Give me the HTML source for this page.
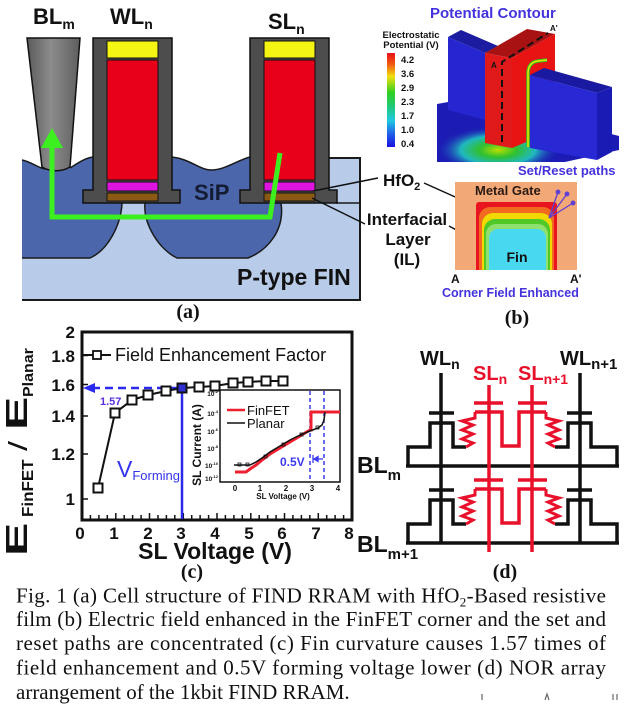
<!DOCTYPE html>
<html><head><meta charset="utf-8">
<style>
html,body{margin:0;padding:0;background:#fff;}
svg{display:block;}
text{font-family:"Liberation Sans",Arial,sans-serif;}
.b{font-weight:bold;}
.s{font-family:"Liberation Serif","Times New Roman",serif;}
</style></head><body>
<svg width="624" height="705" viewBox="0 0 624 705" xmlns="http://www.w3.org/2000/svg">
<defs>
<linearGradient id="blg" x1="0" x2="1" y1="0" y2="0">
<stop offset="0" stop-color="#5a5a5a"/><stop offset="0.45" stop-color="#8c8c8c"/><stop offset="1" stop-color="#5e5e5e"/>
</linearGradient>
<linearGradient id="cbar" x1="0" x2="0" y1="0" y2="1">
<stop offset="0" stop-color="#e8101c"/>
<stop offset="0.12" stop-color="#f05a10"/>
<stop offset="0.25" stop-color="#f0e010"/>
<stop offset="0.42" stop-color="#30d020"/>
<stop offset="0.58" stop-color="#20c880"/>
<stop offset="0.72" stop-color="#20c8e0"/>
<stop offset="0.86" stop-color="#2060e8"/>
<stop offset="1" stop-color="#1a10e0"/>
</linearGradient>
<radialGradient id="glow" cx="0.5" cy="0.5" r="0.5">
<stop offset="0" stop-color="#b8e000"/>
<stop offset="0.3" stop-color="#30c030"/>
<stop offset="0.6" stop-color="#20b8c0"/>
<stop offset="1" stop-color="#1c1cb4" stop-opacity="0"/>
</radialGradient>
<clipPath id="baseclip"><polygon points="437,104 470,98 619,136 619,150 565,162 437,162"/></clipPath>
<clipPath id="xsclip"><rect x="455" y="182" width="122" height="88"/></clipPath>
</defs>

<!-- ================= (a) ================= -->
<rect x="22" y="203" width="338" height="97" fill="#b8cbe9"/>
<rect x="328" y="158" width="32" height="45" fill="#b8cbe9"/>
<path d="M22,160 C32,162 38,168 45,169 C55,172 62,172 70,168 C78,163 85,158 93,157 L93,203 L122,203 C121,225 108,250 90,258 L22,258 Z" fill="#4b66ab"/>
<path d="M172,157 C190,159 200,170 211,170 C225,170 238,160 250,157 L250,203 L281,203 C285,230 268,250 248,258 L177,258 C160,250 143,225 145,203 L172,203 Z" fill="#4b66ab"/>
<g fill="none" stroke="#1a1a1a" stroke-width="1.5">
<path d="M22,160 C32,162 38,168 45,169"/>
<path d="M70,168 C78,163 85,158 93,157"/>
<path d="M122,203 C121,225 108,250 90,258 L22,258"/>
<path d="M172,157 C190,159 200,170 211,170 C225,170 238,160 250,157"/>
<path d="M145,203 C143,225 160,250 177,258 L248,258 C268,250 285,230 281,203"/>
</g>
<path d="M328,158 L360,158 L360,300 L22,300" fill="none" stroke="#1a1a1a" stroke-width="2"/>
<line x1="336" y1="203" x2="360" y2="203" stroke="#1a1a1a" stroke-width="1.5"/>

<g>
<path d="M93,38 L172,38 L172,190 L180,190 L180,203 L83,203 L83,190 L93,190 Z" fill="#4d4d4d" stroke="#111" stroke-width="1.5"/>
<rect x="107" y="41" width="51" height="17" fill="#f5f514" stroke="#111" stroke-width="1"/>
<rect x="107" y="60" width="51" height="120" fill="#e8001a" stroke="#111" stroke-width="1"/>
<rect x="107" y="182" width="51" height="9" fill="#e014e0" stroke="#111" stroke-width="1"/>
<rect x="107" y="193" width="51" height="8" fill="#8a5a14" stroke="#111" stroke-width="1"/>
</g>
<g transform="translate(157,0)">
<path d="M93,38 L172,38 L172,190 L180,190 L180,203 L83,203 L83,190 L93,190 Z" fill="#4d4d4d" stroke="#111" stroke-width="1.5"/>
<rect x="107" y="41" width="51" height="17" fill="#f5f514" stroke="#111" stroke-width="1"/>
<rect x="107" y="60" width="51" height="120" fill="#e8001a" stroke="#111" stroke-width="1"/>
<rect x="107" y="182" width="51" height="9" fill="#e014e0" stroke="#111" stroke-width="1"/>
<rect x="107" y="193" width="51" height="8" fill="#8a5a14" stroke="#111" stroke-width="1"/>
</g>
<path d="M27,38 L80,38 L70,167 C62,172 50,172 42,167 Z" fill="url(#blg)" stroke="#111" stroke-width="1.5"/>
<polyline points="280,153 270,217 52,217 52,146" fill="none" stroke="#3cf020" stroke-width="5"/>
<polygon points="41,148 63,148 52,128" fill="#3cf020"/>

<text x="33" y="24" class="b" font-size="22" fill="#111">BL<tspan font-size="14" dy="5">m</tspan></text>
<text x="110" y="24" class="b" font-size="22" fill="#111">WL<tspan font-size="14" dy="5">n</tspan></text>
<text x="268" y="29" class="b" font-size="22" fill="#111">SL<tspan font-size="14" dy="5">n</tspan></text>
<text x="194" y="200" class="b" font-size="22" fill="#141c34">SiP</text>
<text x="237" y="285" class="b" font-size="23" fill="#111">P-type FIN</text>

<text x="383" y="186" class="b" font-size="17" fill="#111">HfO<tspan font-size="11" dy="4">2</tspan></text>
<g stroke="#111" stroke-width="1.5">
<line x1="378" y1="178" x2="313" y2="191"/>
<line x1="424" y1="183" x2="482" y2="209"/>
<line x1="365" y1="224" x2="312" y2="198"/>
<line x1="449" y1="226" x2="486" y2="246"/>
</g>
<text x="407" y="225" class="b" font-size="17" text-anchor="middle" fill="#111">Interfacial</text>
<text x="408" y="245" class="b" font-size="17" text-anchor="middle" fill="#111">Layer</text>
<text x="407" y="265" class="b" font-size="17" text-anchor="middle" fill="#111">(IL)</text>
<text x="188" y="318" class="s b" font-size="20" text-anchor="middle" fill="#111">(a)</text>

<!-- ================= (b) top ================= -->
<text x="430" y="18" class="b" font-size="15" fill="#4433dd">Potential Contour</text>
<text x="411" y="38" class="b" font-size="9.5" text-anchor="middle" fill="#111">Electrostatic</text>
<text x="411" y="48" class="b" font-size="9.5" text-anchor="middle" fill="#111">Potential (V)</text>
<rect x="387" y="53" width="8" height="94" fill="url(#cbar)"/>
<g class="b" font-size="9.5" fill="#111">
<text x="401" y="63">4.2</text>
<text x="401" y="77">3.6</text>
<text x="401" y="91">2.9</text>
<text x="401" y="105">2.3</text>
<text x="401" y="119">1.7</text>
<text x="401" y="133">1.0</text>
<text x="401" y="147">0.4</text>
</g>
<polygon points="437,104 470,98 619,136 619,150 565,162 437,162" fill="#1c1cb4"/>
<ellipse cx="498" cy="150" rx="62" ry="24" fill="url(#glow)" clip-path="url(#baseclip)"/>
<polygon points="448,37 461,30 498,46 485,53" fill="#1c1ca0"/>
<polygon points="448,37 485,53 485,120 448,110" fill="#2626d0"/>
<polygon points="485,53 527,29 555,34 512,58" fill="#a81212"/>
<polygon points="512,58 555,34 555,130 512,148" fill="#e81414"/>
<polygon points="485,53 512,58 512,148 485,143" fill="#e01a1a"/>
<path d="M528,147 L528,72 Q529,62 538,61 L547,60" fill="none" stroke="#30c020" stroke-width="3.5"/>
<path d="M528,147 L528,72 Q529,62 538,61 L547,60" fill="none" stroke="#e8e800" stroke-width="1.5"/>
<polygon points="530,75 544,68 612,87 597,93" fill="#1a1aa0"/>
<polygon points="530,75 597,93 597,160 530,148" fill="#2828d4"/>
<polygon points="597,93 612,87 612,152 597,160" fill="#1a1ab4"/>
<path d="M502,142 L502,62 L548,33" fill="none" stroke="#111" stroke-width="2" stroke-dasharray="7,4"/>
<text x="491" y="68" font-size="8" class="b" fill="#111">A</text>
<text x="550" y="31" font-size="8" class="b" fill="#111">A'</text>
<text x="518" y="175" class="b" font-size="13" fill="#4433dd">Set/Reset paths</text>

<!-- ================= (b) cross-section ================= -->
<rect x="455" y="182" width="122" height="88" fill="#f3a878"/>
<g clip-path="url(#xsclip)">
<rect x="476" y="202" width="81" height="90" rx="3" fill="#e81420"/>
<rect x="479" y="207" width="75" height="90" rx="11" fill="#f06a20"/>
<rect x="482" y="213" width="70" height="90" rx="11" fill="#f0d800"/>
<rect x="484" y="219" width="66" height="90" rx="11" fill="#50c828"/>
<rect x="486" y="224" width="62" height="90" rx="10" fill="#90e070"/>
<rect x="489" y="229" width="57" height="90" rx="9" fill="#48d8f0"/>
</g>
<text x="475" y="195" font-size="13" class="b" fill="#2a1a10">Metal Gate</text>
<text x="517" y="262" font-size="14" class="b" text-anchor="middle" fill="#111">Fin</text>
<g stroke="#6040d0" stroke-width="1.3" fill="#6040d0">
<line x1="549" y1="218" x2="558" y2="192"/>
<line x1="549" y1="218" x2="567" y2="194"/>
<line x1="549" y1="218" x2="573" y2="203"/>
<circle cx="558" cy="192" r="1.8"/>
<circle cx="567" cy="194" r="1.8"/>
<circle cx="573" cy="203" r="1.8"/>
</g>
<text x="451" y="283" font-size="12" class="b" fill="#111">A</text>
<text x="570" y="283" font-size="12" class="b" fill="#111">A'</text>
<text x="442" y="297" font-size="12.5" class="b" fill="#4433dd">Corner Field Enhanced</text>
<text x="517" y="324" class="s b" font-size="20" text-anchor="middle" fill="#111">(b)</text>

<!-- ================= (c) ================= -->
<rect x="82" y="332" width="270" height="188" fill="none" stroke="#111" stroke-width="3"/>
<g stroke="#111" stroke-width="1.5">
<line x1="90.4" y1="515" x2="90.4" y2="520"/><line x1="98.9" y1="515" x2="98.9" y2="520"/><line x1="107.3" y1="515" x2="107.3" y2="520"/><line x1="115.8" y1="513" x2="115.8" y2="520"/>
<line x1="124.2" y1="515" x2="124.2" y2="520"/><line x1="132.6" y1="515" x2="132.6" y2="520"/><line x1="141.1" y1="515" x2="141.1" y2="520"/><line x1="149.5" y1="513" x2="149.5" y2="520"/>
<line x1="158" y1="515" x2="158" y2="520"/><line x1="166.4" y1="515" x2="166.4" y2="520"/><line x1="174.8" y1="515" x2="174.8" y2="520"/><line x1="183.3" y1="513" x2="183.3" y2="520"/>
<line x1="191.7" y1="515" x2="191.7" y2="520"/><line x1="200.1" y1="515" x2="200.1" y2="520"/><line x1="208.6" y1="515" x2="208.6" y2="520"/><line x1="217" y1="513" x2="217" y2="520"/>
<line x1="225.4" y1="515" x2="225.4" y2="520"/><line x1="233.9" y1="515" x2="233.9" y2="520"/><line x1="242.3" y1="515" x2="242.3" y2="520"/><line x1="250.8" y1="513" x2="250.8" y2="520"/>
<line x1="259.2" y1="515" x2="259.2" y2="520"/><line x1="267.6" y1="515" x2="267.6" y2="520"/><line x1="276.1" y1="515" x2="276.1" y2="520"/><line x1="284.5" y1="513" x2="284.5" y2="520"/>
<line x1="292.9" y1="515" x2="292.9" y2="520"/><line x1="301.4" y1="515" x2="301.4" y2="520"/><line x1="309.8" y1="515" x2="309.8" y2="520"/><line x1="318.3" y1="513" x2="318.3" y2="520"/>
<line x1="326.7" y1="515" x2="326.7" y2="520"/><line x1="335.1" y1="515" x2="335.1" y2="520"/><line x1="343.6" y1="515" x2="343.6" y2="520"/>
<line x1="82" y1="355.5" x2="88" y2="355.5"/><line x1="82" y1="384.5" x2="88" y2="384.5"/><line x1="82" y1="416" x2="88" y2="416"/><line x1="82" y1="454" x2="88" y2="454"/><line x1="82" y1="499" x2="88" y2="499"/>
</g>
<g class="b" font-size="17" fill="#111" text-anchor="end">
<text x="75" y="338">2</text>
<text x="75" y="362">1.8</text>
<text x="75" y="391">1.6</text>
<text x="75" y="422">1.4</text>
<text x="75" y="460">1.2</text>
<text x="75" y="505">1</text>
</g>
<g class="b" font-size="17" fill="#111" text-anchor="middle">
<text x="80" y="539">0</text><text x="114" y="539">1</text><text x="148" y="539">2</text><text x="181" y="539">3</text>
<text x="215" y="539">4</text><text x="249" y="539">5</text><text x="282" y="539">6</text><text x="316" y="539">7</text><text x="349" y="539">8</text>
</g>
<text x="215" y="559" class="b" font-size="23" text-anchor="middle" fill="#111">SL Voltage (V)</text>
<g class="b" fill="#111">
<text transform="translate(27,556) rotate(-90) scale(1,0.62)" font-size="50">E</text>
<text transform="translate(33,517) rotate(-90) scale(1,0.9)" font-size="17">FinFET</text>
<text transform="translate(27,451) rotate(-90) scale(1,0.72)" font-size="36" font-weight="normal">/</text>
<text transform="translate(27,430) rotate(-90) scale(1,0.62)" font-size="50">E</text>
<text transform="translate(33,397) rotate(-90) scale(1,0.9)" font-size="16">Planar</text>
</g>
<line x1="82" y1="355" x2="111" y2="355" stroke="#111" stroke-width="2"/>
<rect x="93" y="351" width="8" height="8" fill="#fff" stroke="#111" stroke-width="1.8"/>
<text x="115" y="361" font-size="18" fill="#111">Field Enhancement Factor</text>
<line x1="178" y1="388" x2="93" y2="388" stroke="#2a2aee" stroke-width="2.5" stroke-dasharray="8,5"/>
<polygon points="83,388 95,383 95,393" fill="#2a2aee"/>
<line x1="182" y1="388" x2="182" y2="519" stroke="#2a2aee" stroke-width="2.5"/>
<text x="100" y="405" class="b" font-size="11" fill="#5a30e0">1.57</text>
<text x="117" y="477" font-size="23" fill="#3333ee">V<tspan font-size="13" dy="3">Forming</tspan></text>
<polyline points="98,488 115,413 132,400 148,395 166,391 182,388 199,387 215,386 233,383 248,382 266,381 283,381" fill="none" stroke="#111" stroke-width="2"/>
<g fill="#fff" stroke="#111" stroke-width="2">
<rect x="93.5" y="483.5" width="9" height="9"/><rect x="110.5" y="408.5" width="9" height="9"/><rect x="127.5" y="395.5" width="9" height="9"/>
<rect x="143.5" y="390.5" width="9" height="9"/><rect x="161.5" y="386.5" width="9" height="9"/>
<rect x="194.5" y="382.5" width="9" height="9"/><rect x="210.5" y="381.5" width="9" height="9"/><rect x="228.5" y="378.5" width="9" height="9"/>
<rect x="243.5" y="377.5" width="9" height="9"/><rect x="261.5" y="376.5" width="9" height="9"/><rect x="278.5" y="376.5" width="9" height="9"/>
</g>
<rect x="177.5" y="383.5" width="9" height="9" fill="#3030d0" stroke="#111" stroke-width="2"/>

<rect x="220" y="390" width="120" height="92" fill="#fff" stroke="#111" stroke-width="1.5"/>
<text transform="translate(201,445) rotate(-90)" class="b" font-size="12" text-anchor="middle" fill="#111">SL Current (A)</text>
<g class="b" font-size="6.5" fill="#111" text-anchor="end">
<text x="218" y="396">10<tspan font-size="4" dy="-3">-2</tspan></text>
<text x="218" y="416">10<tspan font-size="4" dy="-3">-4</tspan></text>
<text x="218" y="434">10<tspan font-size="4" dy="-3">-6</tspan></text>
<text x="218" y="451">10<tspan font-size="4" dy="-3">-8</tspan></text>
<text x="218" y="468">10<tspan font-size="4" dy="-3">-10</tspan></text>
<text x="218" y="481">10<tspan font-size="4" dy="-3">-12</tspan></text>
</g>
<g class="b" font-size="8" fill="#111" text-anchor="middle">
<text x="235" y="491">0</text><text x="260" y="491">1</text><text x="286" y="491">2</text><text x="312" y="491">3</text><text x="338" y="491">4</text>
<text x="283" y="499">SL Voltage (V)</text>
</g>
<line x1="310" y1="391" x2="310" y2="481" stroke="#3a3af0" stroke-width="1.5" stroke-dasharray="4,3"/>
<line x1="324" y1="391" x2="324" y2="481" stroke="#3a3af0" stroke-width="1.5" stroke-dasharray="4,3"/>
<polyline points="235,472 246,472 250,469 256,465 262,460 270,454 280,448 290,442 300,436 310,430 311,430 311,412 340,412" fill="none" stroke="#ee2030" stroke-width="3"/>
<polyline points="234,465 250,465 256,462 262,458 270,452 280,446 290,440 300,435 310,431 318,428 322,425 324,420 325,412" fill="none" stroke="#111" stroke-width="1.5"/>
<g fill="none" stroke="#111" stroke-width="0.8">
<rect x="238" y="463" width="3" height="3"/><rect x="246" y="463" width="3" height="3"/><rect x="264" y="455" width="3" height="3"/><rect x="282" y="443" width="3" height="3"/><rect x="300" y="433" width="3" height="3"/><rect x="316" y="426" width="3" height="3"/>
</g>
<line x1="227" y1="410" x2="245" y2="410" stroke="#ee2030" stroke-width="2.5"/>
<line x1="227" y1="423" x2="245" y2="423" stroke="#111" stroke-width="1.5"/>
<text x="247" y="415" font-size="13" fill="#111">FinFET</text>
<text x="247" y="428" font-size="13" fill="#111">Planar</text>
<text x="280" y="466" class="b" font-size="12" fill="#3a3af0">0.5V</text>
<g stroke="#3a3af0" stroke-width="1.3" fill="#3a3af0">
<line x1="313" y1="455" x2="313" y2="463"/>
<line x1="313" y1="459" x2="323" y2="459"/>
<polygon points="314,459 318,456.5 318,461.5"/>
</g>
<text x="192" y="578" class="s b" font-size="20" text-anchor="middle" fill="#111">(c)</text>

<!-- ================= (d) ================= -->
<g fill="none" stroke-width="3.5" stroke-linejoin="miter">
<g stroke="#111">
<line x1="441" y1="373" x2="441" y2="543"/>
<line x1="580" y1="373" x2="580" y2="543"/>
<line x1="406" y1="466" x2="619" y2="466"/>
<line x1="406" y1="543" x2="619" y2="543"/>
</g>
<g>
<g stroke="#111">
<path d="M408,466 L408,447 L430,447 L430,423 L453,423 L453,447 L466,447"/>
<path d="M429,413 L454,413"/>
<path d="M555,447 L568,447 L568,423 L591,423 L591,447 L617,447 L617,466"/>
<path d="M567,413 L592,413"/>
</g>
<g stroke="#e8102a" stroke-width="3">
<path d="M466,447 L473,443 L462,439 L473,434 L462,430 L473,425 L462,421 L475,418 L475,412"/>
<path d="M546,412 L546,418 L559,421 L548,425 L559,430 L548,434 L559,439 L548,443 L555,447"/>
</g>
<g stroke="#e8102a">
<path d="M475,412 L502,412 L502,446 L519,446 L519,412 L546,412"/>
<path d="M474,403 L503,403"/>
<path d="M518,403 L547,403"/>
</g>
</g>
<g transform="translate(0,77)">
<g stroke="#111">
<path d="M408,466 L408,447 L430,447 L430,423 L453,423 L453,447 L466,447"/>
<path d="M429,413 L454,413"/>
<path d="M555,447 L568,447 L568,423 L591,423 L591,447 L617,447 L617,466"/>
<path d="M567,413 L592,413"/>
</g>
<g stroke="#e8102a" stroke-width="3">
<path d="M466,447 L473,443 L462,439 L473,434 L462,430 L473,425 L462,421 L475,418 L475,412"/>
<path d="M546,412 L546,418 L559,421 L548,425 L559,430 L548,434 L559,439 L548,443 L555,447"/>
</g>
<g stroke="#e8102a">
<path d="M475,412 L502,412 L502,446 L519,446 L519,412 L546,412"/>
<path d="M474,403 L503,403"/>
<path d="M518,403 L547,403"/>
</g>
</g>
<g stroke="#e8102a">
<line x1="489" y1="385" x2="489" y2="552"/>
<line x1="532" y1="385" x2="532" y2="552"/>
</g>
</g>
<text x="420" y="365" class="b" font-size="20" fill="#111">WL<tspan font-size="14" dy="4">n</tspan></text>
<text x="560" y="365" class="b" font-size="20" fill="#111">WL<tspan font-size="15" dy="4">n+1</tspan></text>
<text x="473" y="380" class="b" font-size="20" fill="#e8102a">SL<tspan font-size="14" dy="4">n</tspan></text>
<text x="518" y="380" class="b" font-size="20" fill="#e8102a">SL<tspan font-size="14" dy="4">n+1</tspan></text>
<text x="357" y="473" class="b" font-size="23" fill="#111">BL<tspan font-size="15" dy="7">m</tspan></text>
<text x="357" y="552" class="b" font-size="23" fill="#111">BL<tspan font-size="15" dy="7">m+1</tspan></text>
<text x="505" y="578" class="s b" font-size="20" text-anchor="middle" fill="#111">(d)</text>

<!-- ================= caption ================= -->
<g fill="#111">
<text class="s" x="16" y="602.5" font-size="21" textLength="590" lengthAdjust="spacing">Fig. 1 (a) Cell structure of FIND RRAM with HfO<tspan font-size="13" dy="4">2</tspan><tspan dy="-4">-Based resistive</tspan></text>
<text class="s" x="16" y="626" font-size="21" textLength="590" lengthAdjust="spacing">film (b) Electric field enhanced in the FinFET corner and the set and</text>
<text class="s" x="16" y="650" font-size="21" textLength="590" lengthAdjust="spacing">reset paths are concentrated (c) Fin curvature causes 1.57 times of</text>
<text class="s" x="16" y="674.5" font-size="21" textLength="590" lengthAdjust="spacing">field enhancement and 0.5V forming voltage lower (d) NOR array</text>
<text class="s" x="16" y="699" font-size="21">arrangement of the 1kbit FIND RRAM.</text>
</g>
<g stroke="#666" stroke-width="1.2">
<line x1="482" y1="694" x2="482" y2="700"/>
<path d="M545,700 L547,694 L549,700" fill="none"/>
<line x1="613" y1="694" x2="613" y2="700"/>
<line x1="617" y1="694" x2="617" y2="700"/>
</g>
</svg>
</body></html>
